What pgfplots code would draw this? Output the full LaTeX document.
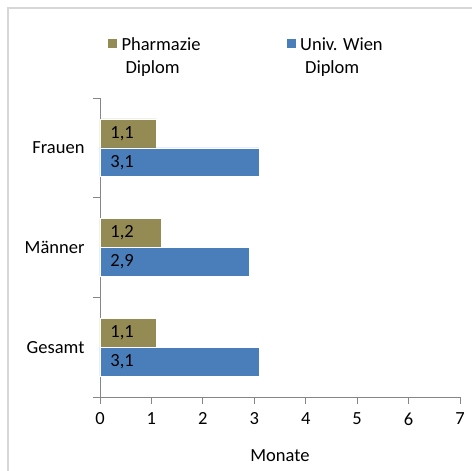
\documentclass[border=0pt]{standalone}
\usepackage{pgfplots}
\pgfplotsset{compat=1.18}
\usepackage{fontspec}
\setmainfont{Carlito}
\definecolor{olivebar}{RGB}{148,138,84}
\definecolor{bluebar}{RGB}{74,126,187}
\definecolor{axisgray}{RGB}{134,134,134}
\definecolor{framegray}{RGB}{215,215,215}
\begin{document}
\begin{tikzpicture}[x=1pt,y=1pt]
\path[use as bounding box, fill=white] (0,0) rectangle (472,471);
\draw[framegray, line width=1.2pt] (8,0) -- (8,463) -- (472,463);
\begin{axis}[
  at={(100pt,74pt)}, anchor=south west,
  scale only axis, width=360pt, height=299pt,
  xmin=0, xmax=7, ymin=-0.5, ymax=2.5,
  axis lines*=left,
  axis line style={axisgray, line width=0.8pt},
  every tick/.style={axisgray, line width=0.8pt},
  tick align=outside,
  major tick length=7pt,
  xtick={0,1,2,3,4,5,6,7},
  ytick={-0.5,0.5,1.5,2.5}, yticklabels={},
  extra y ticks={0,1,2},
  extra y tick labels={Gesamt,Männer,Frauen},
  extra y tick style={major tick length=0pt},
  font=\fontsize{18.5}{23}\selectfont,
  /pgf/number format/assume math mode=true,
  xticklabel style={yshift=-5pt},
  yticklabel style={xshift=-12pt},
  xlabel={Monate},
  xlabel style={yshift=-18pt},
  clip=false,
  legend columns=2,
  legend style={draw=none, fill=none, inner sep=0pt, outer sep=0pt,
    at={(axis description cs:0.0194,1.227)}, anchor=north west,
    font=\fontsize{18.5}{23}\selectfont,
    nodes={inner sep=4pt},
    /tikz/every even column/.append style={column sep=81pt}},
  legend cell align=left,
  legend image code/.code={\fill[#1] (0pt,-5pt) rectangle (10pt,5pt);},
]
\addplot[xbar, bar width=0.29, bar shift=0.145, fill=olivebar, draw=white, line width=0.6pt]
  coordinates {(1.1,0) (1.2,1) (1.1,2)};
\addlegendentry{\begin{tabular}[t]{@{}l@{}}Pharmazie\\\hspace{4pt}Diplom\end{tabular}}
\addplot[xbar, bar width=0.29, bar shift=-0.145, fill=bluebar, draw=white, line width=0.6pt]
  coordinates {(3.1,0) (2.9,1) (3.1,2)};
\addlegendentry{\begin{tabular}[t]{@{}l@{}}Univ. Wien\\\hspace{5pt}Diplom\end{tabular}}
\addplot[only marks, mark=none, forget plot, nodes near coords, point meta=explicit symbolic,
  every node near coord/.style={anchor=west, inner sep=0pt, text=black, font=\fontsize{18.5}{23}\selectfont}]
  coordinates {(0.2,0.145) [1,1] (0.2,1.145) [1,2] (0.2,2.145) [1,1]
               (0.2,-0.145) [3,1] (0.2,0.855) [2,9] (0.2,1.855) [3,1]};
\end{axis}
\end{tikzpicture}
\end{document}
